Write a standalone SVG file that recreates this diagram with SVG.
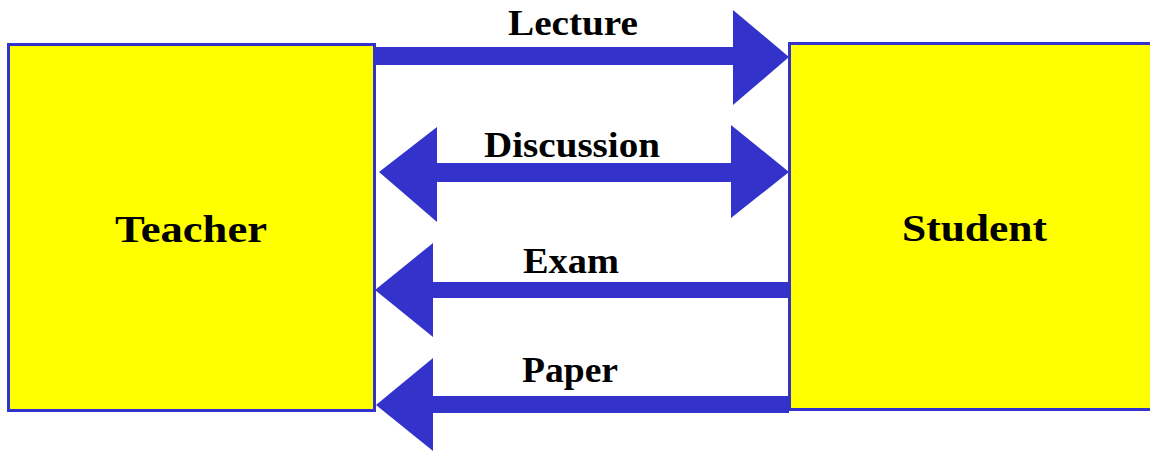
<svg xmlns="http://www.w3.org/2000/svg" width="1150" height="451" viewBox="0 0 1150 451">
<style>
.box{fill:#ffff00;stroke:#3333cc;stroke-width:3}
.arr{fill:#3333cc}
.t{font-family:"Liberation Serif","Times New Roman",serif;font-weight:bold;fill:#000;text-anchor:middle}
.lbl{font-size:35px}
.nm{font-size:38px}
</style>
<rect width="1150" height="451" fill="#ffffff"/>
<g id="connectors">
<g id="lecture">
<rect class="arr" x="375" y="47" width="360" height="18"/>
<polygon class="arr" points="733,10 789,57 733,105"/>
<text class="t lbl" x="573" y="35" textLength="130" lengthAdjust="spacingAndGlyphs">Lecture</text>
</g>
<g id="discussion">
<rect class="arr" x="435" y="163" width="298" height="19"/>
<polygon class="arr" points="437,127 379,172 437,222"/>
<polygon class="arr" points="731,125 789,172 731,218"/>
<text class="t lbl" x="572" y="157" textLength="176" lengthAdjust="spacingAndGlyphs">Discussion</text>
</g>
<g id="exam">
<rect class="arr" x="431" y="282" width="358" height="16"/>
<polygon class="arr" points="433,243 375,290 433,337"/>
<text class="t lbl" x="571" y="273" textLength="96" lengthAdjust="spacingAndGlyphs">Exam</text>
</g>
<g id="paper">
<rect class="arr" x="431" y="396" width="358" height="17"/>
<polygon class="arr" points="433,358 376,405 433,451"/>
<text class="t lbl" x="570" y="382" textLength="96" lengthAdjust="spacingAndGlyphs">Paper</text>
</g>
</g>
<g id="teacher">
<rect class="box" x="8.5" y="44.5" width="366" height="366"/>
<text class="t nm" x="191" y="242" textLength="152" lengthAdjust="spacingAndGlyphs">Teacher</text>
</g>
<g id="student">
<rect class="box" x="789.5" y="43.5" width="380" height="366"/>
<text class="t nm" x="974.5" y="241" textLength="145" lengthAdjust="spacingAndGlyphs">Student</text>
</g>
</svg>
